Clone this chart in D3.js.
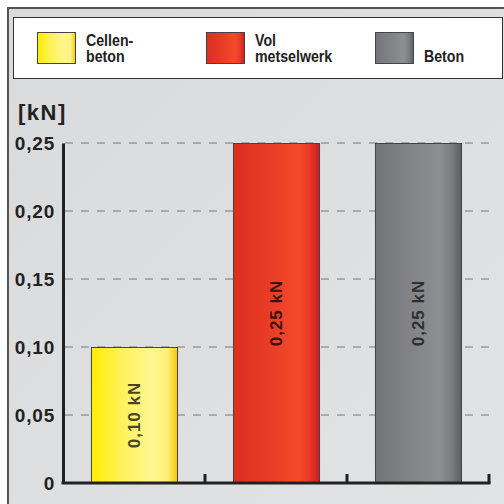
<!DOCTYPE html>
<html>
<head>
<meta charset="utf-8">
<script src="https://cdn.jsdelivr.net/npm/d3@7"></script>
<style>
  body { margin: 0; background: #fff; }
  text { font-family: "Liberation Sans", Arial, sans-serif; font-weight: bold; fill: #222; }
</style>
</head>
<body>
<div id="chart"></div>
<script>
// chart values
var materials = ["Cellen-beton", "Vol metselwerk", "Beton"];
var legendLines = [["Cellen-", "beton"], ["Vol", "metselwerk"], ["", "Beton"]];
var values = [0.10, 0.25, 0.25];
var barLabels = ["0,10 kN", "0,25 kN", "0,25 kN"];
var yTicks = [0, 0.05, 0.10, 0.15, 0.20, 0.25];

var svgWidth = 504, svgHeight = 504;

var svg = d3.select("#chart").append("svg")
    .attr("width", svgWidth)
    .attr("height", svgHeight);

var defs = svg.append("defs");

// background gradient of the panel
var bg = defs.append("linearGradient").attr("id", "bg")
    .attr("x1", 0).attr("y1", 0).attr("x2", 1).attr("y2", 1);
bg.append("stop").attr("offset", 0).attr("stop-color", "#d9dadc");
bg.append("stop").attr("offset", 1).attr("stop-color", "#e2e3e5");

// bar gradients (left to right shading)
var grads = [
  { id: "g0", stops: [["0", "#ffec00"], ["0.35", "#fff25a"], ["0.7", "#fff690"], ["0.88", "#fff07a"], ["1", "#f0c800"]] },
  { id: "g1", stops: [["0", "#dc2e22"], ["0.4", "#e83c26"], ["0.75", "#f44a2a"], ["0.88", "#ea3a26"], ["1", "#c81e1e"]] },
  { id: "g2", stops: [["0", "#737478"], ["0.4", "#828387"], ["0.75", "#8d8e92"], ["0.88", "#7c7d81"], ["1", "#5c5d61"]] }
];
grads.forEach(function(g) {
  var lg = defs.append("linearGradient").attr("id", g.id)
      .attr("x1", 0).attr("y1", 0).attr("x2", 1).attr("y2", 0);
  g.stops.forEach(function(s) {
    lg.append("stop").attr("offset", s[0]).attr("stop-color", s[1]);
  });
});

// outer panel
svg.append("rect")
    .attr("x", 8).attr("y", 8)
    .attr("width", 510).attr("height", 510)
    .attr("fill", "url(#bg)")
    .attr("stroke", "#555")
    .attr("stroke-width", 2);

// legend box
var legend = svg.append("g");
legend.append("rect")
    .attr("x", 13.5).attr("y", 17.5)
    .attr("width", 489).attr("height", 61)
    .attr("fill", "#fff")
    .attr("stroke", "#333")
    .attr("stroke-width", 1);

var legendX = d3.scalePoint().domain(materials).range([37, 375]);

var item = legend.selectAll(".item")
    .data(materials)
    .enter().append("g")
    .attr("class", "item")
    .attr("transform", d => `translate(${legendX(d)}, 32)`);

item.append("rect")
    .attr("x", 0.5).attr("y", 0.5)
    .attr("width", 38).attr("height", 31)
    .attr("fill", (d, i) => `url(#g${i})`)
    .attr("stroke", "#444")
    .attr("stroke-width", 1);

// condensed legend text
var legText = item.append("g")
    .attr("transform", "translate(49, 0) scale(0.86, 1)");

legText.append("text")
    .attr("x", 0).attr("y", 14)
    .style("font-size", "16.5px")
    .text((d, i) => legendLines[i][0]);

legText.append("text")
    .attr("x", 0).attr("y", 30.5)
    .style("font-size", "16.5px")
    .text((d, i) => legendLines[i][1]);

// unit label
svg.append("text")
    .attr("x", 18).attr("y", 120)
    .style("font-size", "22px")
    .style("letter-spacing", "1.5px")
    .text("[kN]");

// scales
var margin = { left: 63, right: 15, top: 143, bottom: 21 };
var x = d3.scaleBand()
    .domain(materials)
    .range([margin.left, svgWidth - margin.right])
    .paddingInner(0.394)
    .paddingOuter(0.197);

var y = d3.scaleLinear()
    .domain([0, 0.25])
    .range([svgHeight - margin.bottom, margin.top]);

// dashed gridlines
svg.append("g").selectAll("line")
    .data(yTicks.slice(1))
    .enter().append("line")
    .attr("x1", margin.left + 2).attr("x2", svgWidth - margin.right)
    .attr("y1", d => y(d)).attr("y2", d => y(d))
    .attr("stroke", "#777")
    .attr("stroke-width", 1)
    .attr("stroke-dasharray", "8,8");

// bars
var bars = svg.append("g").selectAll("g")
    .data(values)
    .enter().append("g");

bars.append("rect")
    .attr("x", (d, i) => x(materials[i]) + 0.5)
    .attr("y", d => y(d) + 0.5)
    .attr("width", x.bandwidth())
    .attr("height", d => y(0) - y(d))
    .attr("fill", (d, i) => `url(#g${i})`)
    .attr("stroke", "#444")
    .attr("stroke-width", 1);

bars.append("text")
    .attr("transform", (d, i) => `translate(${x(materials[i]) + x.bandwidth() / 2 + 6}, ${(y(d) + y(0)) / 2}) rotate(-90)`)
    .attr("text-anchor", "middle")
    .style("font-size", "17px")
    .style("fill", (d, i) => ["#4a4520", "#3a1210", "#2e2f32"][i])
    .style("letter-spacing", "1px")
    .text((d, i) => barLabels[i]);

// y axis
var yAxis = svg.append("g")
    .attr("transform", `translate(${margin.left}, 0)`)
    .call(d3.axisLeft(y)
        .tickValues(yTicks)
        .tickSize(0)
        .tickPadding(8)
        .tickFormat(d => d === 0 ? "0" : d3.format(".2f")(d).replace(".", ",")));
yAxis.select(".domain").attr("stroke", "#222").attr("stroke-width", 3);
yAxis.selectAll("text")
    .style("font-family", "'Liberation Sans', Arial, sans-serif")
    .style("font-weight", "bold")
    .style("font-size", "19px")
    .style("letter-spacing", "0.8px")
    .attr("fill", "#222");

// x axis with ticks at band boundaries
var xBase = y(0);
svg.append("line")
    .attr("x1", margin.left - 1.5).attr("x2", svgWidth - margin.right + 1.5)
    .attr("y1", xBase).attr("y2", xBase)
    .attr("stroke", "#222")
    .attr("stroke-width", 3);

var bounds = materials.map(m => x(m) + x.bandwidth() + (x.step() - x.bandwidth()) / 2);
svg.append("g").selectAll("line")
    .data(bounds)
    .enter().append("line")
    .attr("x1", d => d).attr("x2", d => d)
    .attr("y1", xBase).attr("y2", xBase - 9)
    .attr("stroke", "#222")
    .attr("stroke-width", 3);
</script>
</body>
</html>
